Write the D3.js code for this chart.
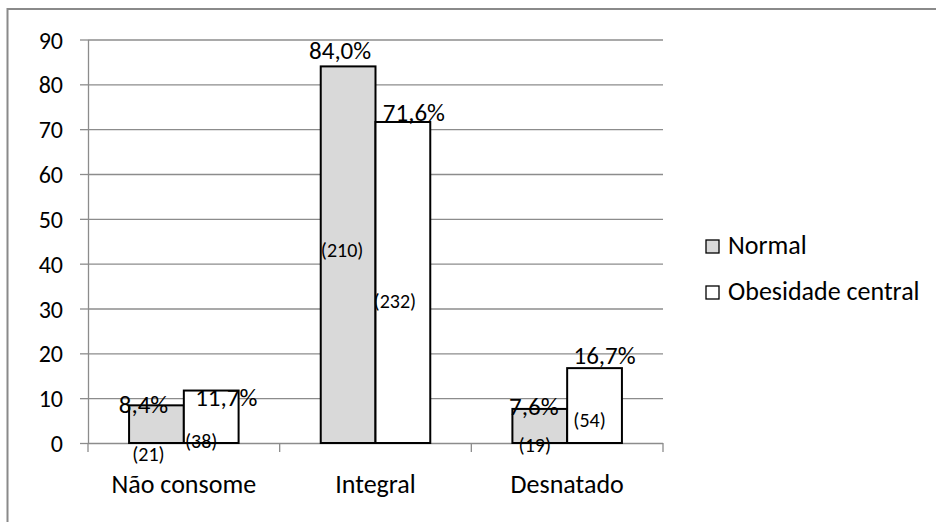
<!DOCTYPE html>
<html>
<head>
<meta charset="utf-8">
<script src="https://cdn.jsdelivr.net/npm/d3@7"></script>
<style>
  html, body { margin: 0; padding: 0; background: #fff; }
  svg { display: block; font-family: Calibri, Carlito, Lato, sans-serif; }
</style>
</head>
<body>
<svg id="chart" width="936" height="522"></svg>
<script>
// Milk consumption by waist group (percent of group, with counts)
const categories = ["Não consome", "Integral", "Desnatado"];
const seriesNames = ["Normal", "Obesidade central"];
const normalPct = [8.4, 84.0, 7.6];
const obesidadePct = [11.7, 71.6, 16.7];
const normalCount = [21, 210, 19];
const obesidadeCount = [38, 232, 54];
const yTicks = [0, 10, 20, 30, 40, 50, 60, 70, 80, 90];

// Hand-placed label nudges (pixels): [dx, dy] for percent labels from bar top,
// and for count labels from bar middle.
const pctNudge = [
  [[-13, -1], [15, 7]],
  [[-8, -16], [11, -9]],
  [[-6, -2], [10, -13]]
];
const countNudge = [
  [[-8, 30], [-10, 25]],
  [[-6, -4], [-8, 19]],
  [[-5, 20], [-5, 15]]
];

const fills = ["#d9d9d9", "#ffffff"];
const rows = categories.map((c, i) => ({
  category: c,
  values: [
    { s: 0, pct: normalPct[i], n: normalCount[i] },
    { s: 1, pct: obesidadePct[i], n: obesidadeCount[i] }
  ]
}));

const svg = d3.select("#chart");
const plotLeft = 88, plotRight = 663, plotTop = 39.5, plotBottom = 443;

const x0 = d3.scaleBand().domain(categories).range([plotLeft, plotRight]).padding(0);
const x1 = d3.scaleBand().domain(d3.range(seriesNames.length))
  .range([0, x0.bandwidth()]).paddingInner(0).paddingOuter(0.75);
const y = d3.scaleLinear().domain([0, 90]).range([plotBottom, plotTop]);

// outer frame
svg.append("rect")
  .attr("x", 7.5).attr("y", 9).attr("width", 940).attr("height", 530)
  .attr("fill", "none").attr("stroke", "#8a8a8a").attr("stroke-width", 2);

// horizontal gridlines
svg.append("g")
  .attr("transform", `translate(${plotLeft},0)`)
  .call(d3.axisRight(y).tickValues(yTicks).tickSize(plotRight - plotLeft).tickFormat(""))
  .call(g => g.select(".domain").remove())
  .call(g => g.selectAll("line").attr("stroke", "#8c8c8c").attr("stroke-width", 1.3));

// y axis
svg.append("g")
  .attr("transform", `translate(${plotLeft},0)`)
  .call(d3.axisLeft(y).tickValues(yTicks).tickSize(8).tickPadding(17).tickSizeOuter(0))
  .call(g => g.select(".domain").attr("stroke", "#8c8c8c").attr("stroke-width", 1.3))
  .call(g => g.selectAll("line").attr("stroke", "#8c8c8c").attr("stroke-width", 1.3))
  .call(g => g.selectAll("text")
    .attr("font-family", "Calibri, Carlito, Lato, sans-serif")
    .attr("font-size", 24).attr("fill", "#000").attr("dy", "0.36em"));

// x axis ticks at category boundaries
const xBounds = categories.map(c => x0(c)).concat([plotRight]);
svg.append("g").selectAll("line").data(xBounds).join("line")
  .attr("x1", d => d).attr("x2", d => d)
  .attr("y1", plotBottom).attr("y2", plotBottom + 9)
  .attr("stroke", "#8c8c8c").attr("stroke-width", 1.3);

svg.append("g").selectAll("text").data(categories).join("text")
  .attr("x", d => x0(d) + x0.bandwidth() / 2)
  .attr("y", 493)
  .attr("text-anchor", "middle")
  .attr("font-size", 26)
  .text(d => d);

// bars
const groups = svg.append("g").selectAll("g").data(rows).join("g")
  .attr("transform", d => `translate(${x0(d.category)},0)`);

groups.selectAll("rect").data(d => d.values).join("rect")
  .attr("x", d => x1(d.s))
  .attr("y", d => y(d.pct))
  .attr("width", x1.bandwidth())
  .attr("height", d => y(0) - y(d.pct))
  .attr("fill", d => fills[d.s])
  .attr("stroke", "#000").attr("stroke-width", 2);

// percent and count labels
groups.each(function (row, i) {
  const g = d3.select(this);
  g.selectAll("text.pct").data(row.values).join("text")
    .attr("class", "pct")
    .attr("x", d => x1(d.s) + x1.bandwidth() / 2 + pctNudge[i][d.s][0])
    .attr("y", d => y(d.pct) + pctNudge[i][d.s][1] + 8.5)
    .attr("text-anchor", "middle")
    .attr("font-size", 25)
    .text(d => d.pct.toFixed(1).replace(".", ",") + "%");

  g.selectAll("text.cnt").data(row.values).join("text")
    .attr("class", "cnt")
    .attr("x", d => x1(d.s) + x1.bandwidth() / 2 + countNudge[i][d.s][0])
    .attr("y", d => y(d.pct / 2) + countNudge[i][d.s][1] + 6.5)
    .attr("text-anchor", "middle")
    .attr("font-size", 20)
    .text(d => `(${d.n})`);
});

// legend
const legend = svg.append("g").selectAll("g").data(seriesNames).join("g")
  .attr("transform", (d, i) => `translate(706,${240 + i * 46})`);
legend.append("rect")
  .attr("width", 13).attr("height", 13)
  .attr("fill", (d, i) => fills[i])
  .attr("stroke", "#000").attr("stroke-width", 1.3);
legend.append("text")
  .attr("x", 22).attr("y", 14)
  .attr("font-size", 26)
  .text(d => d);
</script>
</body>
</html>
